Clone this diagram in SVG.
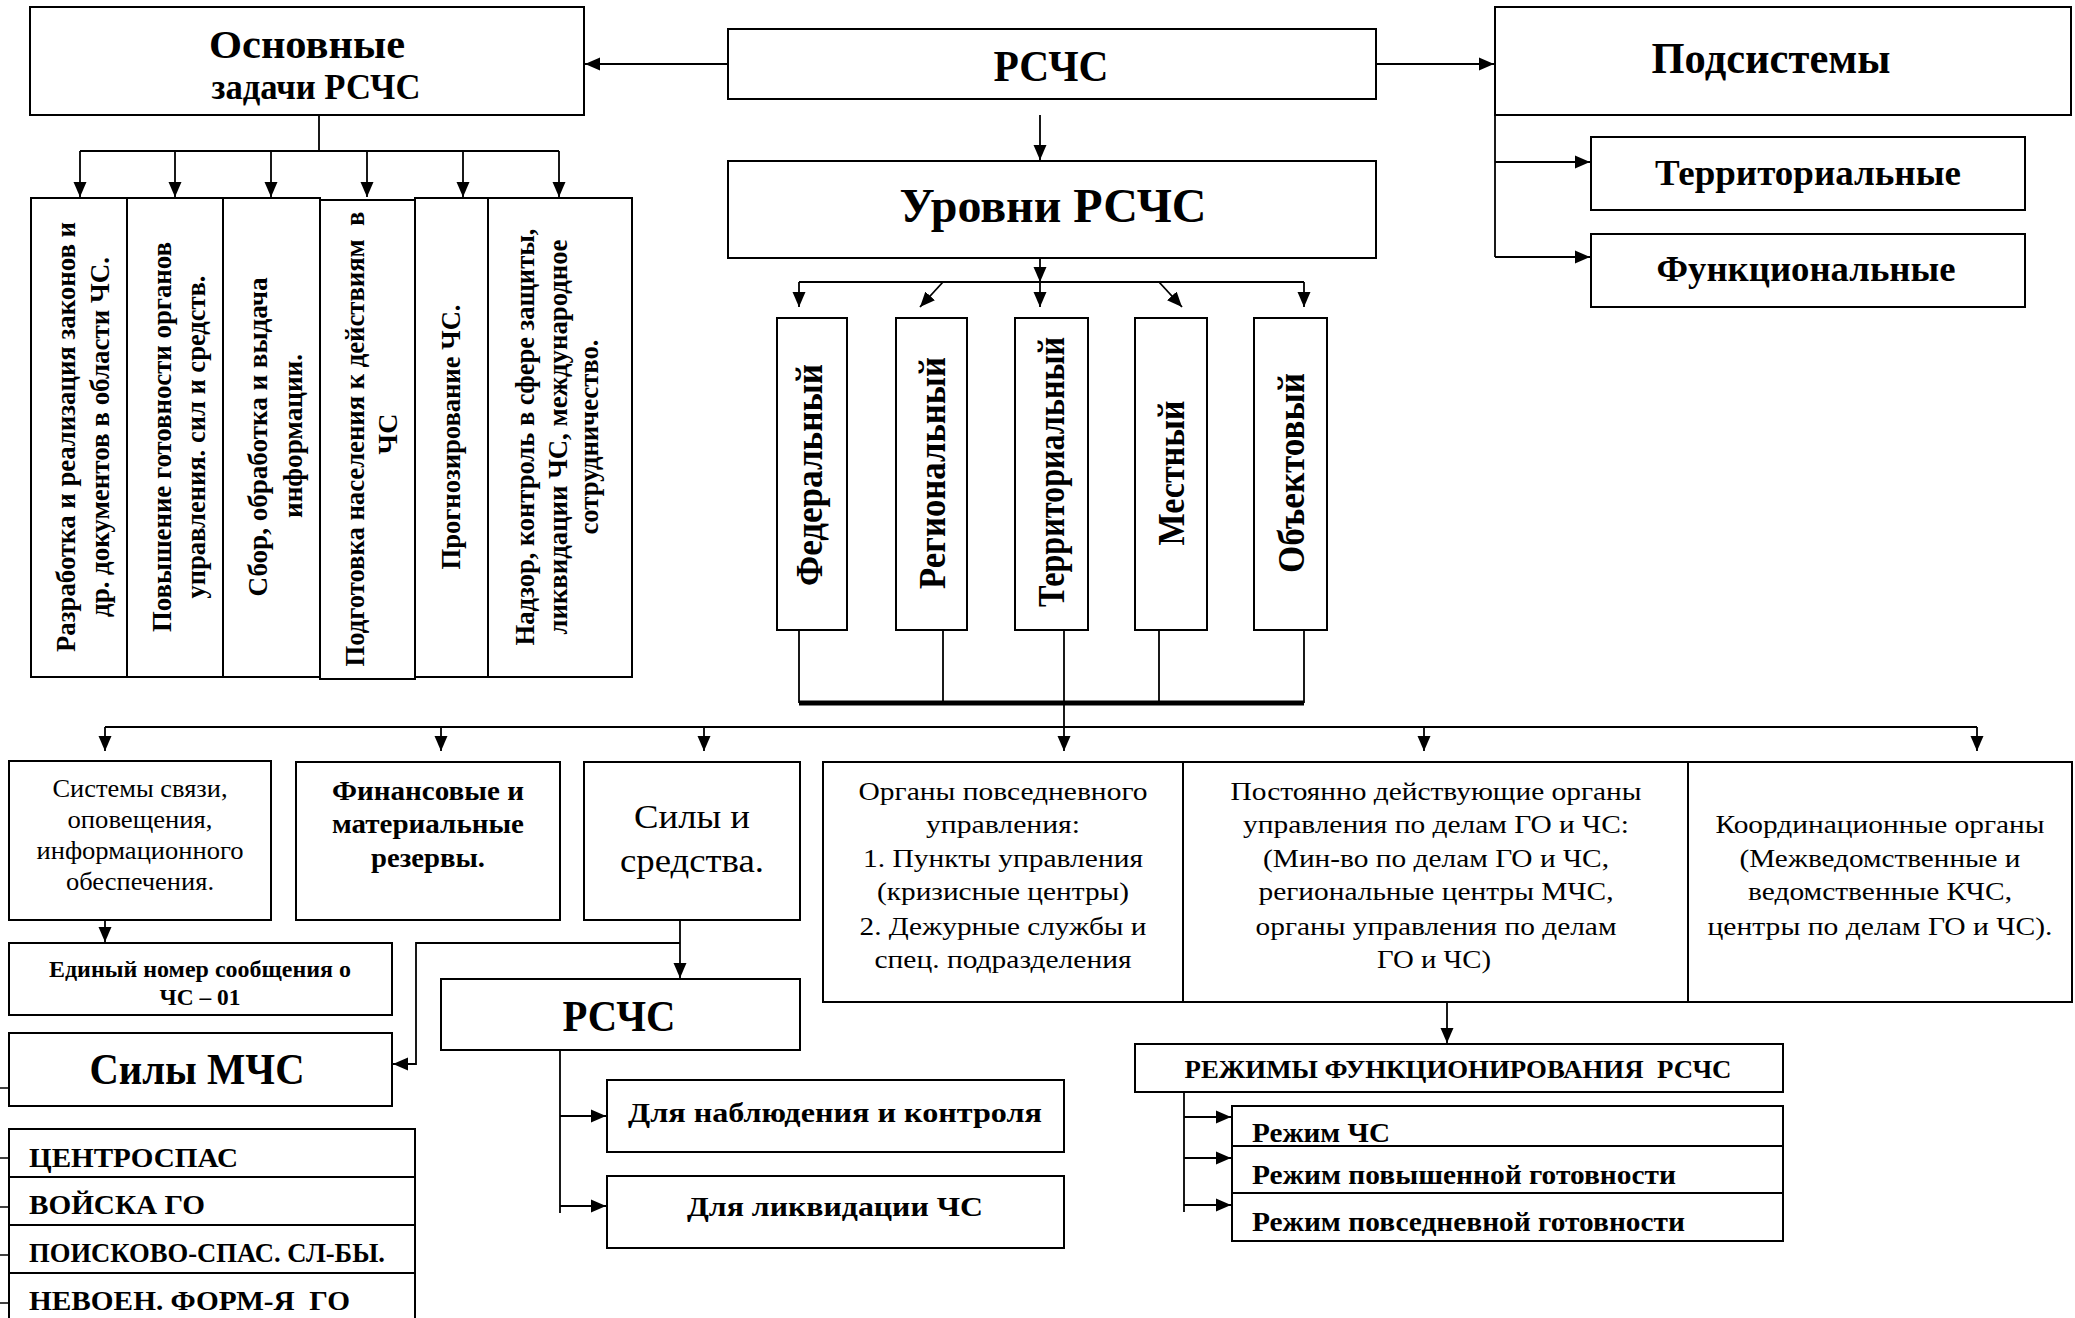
<svg xmlns="http://www.w3.org/2000/svg" width="2075" height="1318" viewBox="0 0 2075 1318">
<defs>
<marker id="ah" markerUnits="userSpaceOnUse" markerWidth="16" markerHeight="14" refX="15" refY="7" orient="auto"><path d="M0,0.5 L15,7 L0,13.5 z" fill="#000"/></marker>
<style>
.box{fill:#fff;stroke:#000;stroke-width:2}
.t{font-family:"Liberation Serif","Times New Roman",serif;fill:#000}
.b{font-weight:bold}
.m{text-anchor:middle}
.c{stroke:#000;stroke-width:1.8;fill:none}
.a{marker-end:url(#ah)}
.bar{stroke:#000;stroke-width:5;fill:none}
.tick{stroke:#000;stroke-width:1.5}
</style>
</defs>
<rect width="2075" height="1318" fill="#fff"/>

<g id="osnovnye">
<rect class="box" x="30" y="7" width="554" height="108"/>
<text class="t b m" x="307" y="58" font-size="41" textLength="196" lengthAdjust="spacingAndGlyphs">Основные</text>
<text class="t b m" x="316" y="99" font-size="35" textLength="209" lengthAdjust="spacingAndGlyphs">задачи РСЧС</text>
</g>
<g id="rschs-top">
<rect class="box" x="728" y="29" width="648" height="70"/>
<text class="t b m" x="1051" y="81" font-size="45" textLength="115" lengthAdjust="spacingAndGlyphs">РСЧС</text>
</g>
<g id="podsistemy">
<rect class="box" x="1495" y="7" width="576" height="108"/>
<text class="t b m" x="1771" y="73" font-size="45" textLength="239" lengthAdjust="spacingAndGlyphs">Подсистемы</text>
</g>
<g id="territorialnye">
<rect class="box" x="1591" y="137" width="434" height="73"/>
<text class="t b m" x="1808" y="185" font-size="36" textLength="306" lengthAdjust="spacingAndGlyphs">Территориальные</text>
</g>
<g id="funkcionalnye">
<rect class="box" x="1591" y="234" width="434" height="73"/>
<text class="t b m" x="1806" y="281" font-size="36" textLength="299" lengthAdjust="spacingAndGlyphs">Функциональные</text>
</g>
<g id="urovni">
<rect class="box" x="728" y="161" width="648" height="97"/>
<text class="t b m" x="1053" y="222" font-size="48" textLength="307" lengthAdjust="spacingAndGlyphs">Уровни РСЧС</text>
</g>

<g id="task1">
<rect class="box" x="31" y="198" width="96" height="479"/>
<text class="t b m" transform="translate(75,437) rotate(-90)" font-size="28" textLength="430" lengthAdjust="spacingAndGlyphs">Разработка и реализация законов и</text>
<text class="t b m" transform="translate(109,437) rotate(-90)" font-size="28" textLength="360" lengthAdjust="spacingAndGlyphs">др. документов в области ЧС.</text>
</g>
<g id="task2">
<rect class="box" x="127" y="198" width="96" height="479"/>
<text class="t b m" transform="translate(171,437) rotate(-90)" font-size="28" textLength="390" lengthAdjust="spacingAndGlyphs">Повышение готовности органов</text>
<text class="t b m" transform="translate(205,437) rotate(-90)" font-size="28" textLength="323" lengthAdjust="spacingAndGlyphs">управления. сил и средств.</text>
</g>
<g id="task3">
<rect class="box" x="223" y="198" width="97" height="479"/>
<text class="t b m" transform="translate(267,437) rotate(-90)" font-size="28" textLength="319" lengthAdjust="spacingAndGlyphs">Сбор, обработка и выдача</text>
<text class="t b m" transform="translate(302,436) rotate(-90)" font-size="28" textLength="164" lengthAdjust="spacingAndGlyphs">информации.</text>
</g>
<g id="task4">
<rect class="box" x="320" y="200" width="95" height="479"/>
<text class="t b m" transform="translate(364,439) rotate(-90)" font-size="28" textLength="455" lengthAdjust="spacingAndGlyphs" style="white-space:pre">Подготовка населения к действиям  в</text>
<text class="t b m" transform="translate(397,434) rotate(-90)" font-size="28">ЧС</text>
</g>
<g id="task5">
<rect class="box" x="415" y="198" width="73" height="479"/>
<text class="t b m" transform="translate(460,437) rotate(-90)" font-size="28" textLength="265" lengthAdjust="spacingAndGlyphs">Прогнозирование ЧС.</text>
</g>
<g id="task6">
<rect class="box" x="488" y="198" width="144" height="479"/>
<text class="t b m" transform="translate(534,437) rotate(-90)" font-size="28" textLength="417" lengthAdjust="spacingAndGlyphs">Надзор, контроль в сфере защиты,</text>
<text class="t b m" transform="translate(567,437) rotate(-90)" font-size="28" textLength="395" lengthAdjust="spacingAndGlyphs">ликвидации ЧС, международное</text>
<text class="t b m" transform="translate(598,437) rotate(-90)" font-size="28" textLength="195" lengthAdjust="spacingAndGlyphs">сотрудничество.</text>
</g>

<g id="lvl-federal">
<rect class="box" x="777" y="318" width="70" height="312"/>
<text class="t b m" transform="translate(822,475) rotate(-90)" font-size="37" textLength="222" lengthAdjust="spacingAndGlyphs">Федеральный</text>
</g>
<g id="lvl-regional">
<rect class="box" x="896" y="318" width="71" height="312"/>
<text class="t b m" transform="translate(945,473) rotate(-90)" font-size="37" textLength="232" lengthAdjust="spacingAndGlyphs">Региональный</text>
</g>
<g id="lvl-territorial">
<rect class="box" x="1015" y="318" width="73" height="312"/>
<text class="t b m" transform="translate(1064,472) rotate(-90)" font-size="37" textLength="270" lengthAdjust="spacingAndGlyphs">Территориальный</text>
</g>
<g id="lvl-mestny">
<rect class="box" x="1135" y="318" width="72" height="312"/>
<text class="t b m" transform="translate(1184,473) rotate(-90)" font-size="37" textLength="145" lengthAdjust="spacingAndGlyphs">Местный</text>
</g>
<g id="lvl-obektovy">
<rect class="box" x="1254" y="318" width="73" height="312"/>
<text class="t b m" transform="translate(1304,473) rotate(-90)" font-size="37" textLength="200" lengthAdjust="spacingAndGlyphs">Объектовый</text>
</g>

<g id="sistemy-svyazi">
<rect class="box" x="9" y="761" width="262" height="159"/>
<text class="t m" x="140" y="797" font-size="26" textLength="175" lengthAdjust="spacingAndGlyphs">Системы связи,</text>
<text class="t m" x="140" y="828" font-size="26" textLength="145" lengthAdjust="spacingAndGlyphs">оповещения,</text>
<text class="t m" x="140" y="859" font-size="26" textLength="207" lengthAdjust="spacingAndGlyphs">информационного</text>
<text class="t m" x="140" y="890" font-size="26" textLength="148" lengthAdjust="spacingAndGlyphs">обеспечения.</text>
</g>
<g id="finansovye">
<rect class="box" x="296" y="762" width="264" height="158"/>
<text class="t b m" x="428" y="800" font-size="27" textLength="192" lengthAdjust="spacingAndGlyphs">Финансовые и</text>
<text class="t b m" x="428" y="833" font-size="27" textLength="192" lengthAdjust="spacingAndGlyphs">материальные</text>
<text class="t b m" x="428" y="867" font-size="27" textLength="114" lengthAdjust="spacingAndGlyphs">резервы.</text>
</g>
<g id="sily-sredstva">
<rect class="box" x="584" y="762" width="216" height="158"/>
<text class="t m" x="692" y="828" font-size="33" textLength="116" lengthAdjust="spacingAndGlyphs">Силы и</text>
<text class="t m" x="692" y="872" font-size="33" textLength="144" lengthAdjust="spacingAndGlyphs">средства.</text>
</g>
<g id="organy-povsednevnogo">
<rect class="box" x="823" y="762" width="360" height="240"/>
<text class="t m" x="1003" y="800" font-size="26" textLength="289" lengthAdjust="spacingAndGlyphs">Органы повседневного</text>
<text class="t m" x="1003" y="833" font-size="26" textLength="154" lengthAdjust="spacingAndGlyphs">управления:</text>
<text class="t m" x="1003" y="867" font-size="26" textLength="280" lengthAdjust="spacingAndGlyphs">1. Пункты управления</text>
<text class="t m" x="1003" y="900" font-size="26" textLength="252" lengthAdjust="spacingAndGlyphs">(кризисные центры)</text>
<text class="t m" x="1003" y="935" font-size="26" textLength="287" lengthAdjust="spacingAndGlyphs">2. Дежурные службы и</text>
<text class="t m" x="1003" y="968" font-size="26" textLength="257" lengthAdjust="spacingAndGlyphs">спец. подразделения</text>
</g>
<g id="postoyanno">
<rect class="box" x="1183" y="762" width="505" height="240"/>
<text class="t m" x="1436" y="800" font-size="26" textLength="411" lengthAdjust="spacingAndGlyphs">Постоянно действующие органы</text>
<text class="t m" x="1436" y="833" font-size="26" textLength="386" lengthAdjust="spacingAndGlyphs">управления по делам ГО и ЧС:</text>
<text class="t m" x="1436" y="867" font-size="26" textLength="346" lengthAdjust="spacingAndGlyphs">(Мин-во по делам ГО и ЧС,</text>
<text class="t m" x="1436" y="900" font-size="26" textLength="355" lengthAdjust="spacingAndGlyphs">региональные центры МЧС,</text>
<text class="t m" x="1436" y="935" font-size="26" textLength="361" lengthAdjust="spacingAndGlyphs">органы управления по делам</text>
<text class="t m" x="1434" y="968" font-size="26" textLength="114" lengthAdjust="spacingAndGlyphs">ГО и ЧС)</text>
</g>
<g id="koordinacionnye">
<rect class="box" x="1688" y="762" width="384" height="240"/>
<text class="t m" x="1880" y="833" font-size="26" textLength="329" lengthAdjust="spacingAndGlyphs">Координационные органы</text>
<text class="t m" x="1880" y="867" font-size="26" textLength="281" lengthAdjust="spacingAndGlyphs">(Межведомственные и</text>
<text class="t m" x="1880" y="900" font-size="26" textLength="264" lengthAdjust="spacingAndGlyphs">ведомственные КЧС,</text>
<text class="t m" x="1880" y="935" font-size="26" textLength="345" lengthAdjust="spacingAndGlyphs">центры по делам ГО и ЧС).</text>
</g>

<g id="edinyi-nomer">
<rect class="box" x="9" y="943" width="383" height="72"/>
<text class="t b m" x="200" y="977" font-size="23" textLength="302" lengthAdjust="spacingAndGlyphs">Единый номер сообщения о</text>
<text class="t b m" x="200" y="1005" font-size="23" textLength="81" lengthAdjust="spacingAndGlyphs">ЧС – 01</text>
</g>
<g id="sily-mchs">
<rect class="box" x="9" y="1033" width="383" height="73"/>
<text class="t b m" x="197" y="1084" font-size="44" textLength="215" lengthAdjust="spacingAndGlyphs">Силы МЧС</text>
</g>
<g id="sily-list">
<rect class="box" x="9" y="1129" width="406" height="48"/>
<rect class="box" x="9" y="1177" width="406" height="48"/>
<rect class="box" x="9" y="1225" width="406" height="48"/>
<rect class="box" x="9" y="1273" width="406" height="60"/>
<text class="t b" x="29" y="1167" font-size="27" textLength="209" lengthAdjust="spacingAndGlyphs">ЦЕНТРОСПАС</text>
<text class="t b" x="29" y="1214" font-size="27" textLength="176" lengthAdjust="spacingAndGlyphs">ВОЙСКА ГО</text>
<text class="t b" x="29" y="1262" font-size="27" textLength="356" lengthAdjust="spacingAndGlyphs">ПОИСКОВО-СПАС. СЛ-БЫ.</text>
<text class="t b" x="29" y="1310" font-size="27" textLength="321" lengthAdjust="spacingAndGlyphs" style="white-space:pre">НЕВОЕН. ФОРМ-Я  ГО</text>
</g>
<g id="rschs-2">
<rect class="box" x="441" y="979" width="359" height="71"/>
<text class="t b m" x="619" y="1031" font-size="44" textLength="113" lengthAdjust="spacingAndGlyphs">РСЧС</text>
</g>
<g id="dlya-nablyudeniya">
<rect class="box" x="607" y="1080" width="457" height="72"/>
<text class="t b m" x="835" y="1122" font-size="28" textLength="414" lengthAdjust="spacingAndGlyphs">Для наблюдения и контроля</text>
</g>
<g id="dlya-likvidacii">
<rect class="box" x="607" y="1176" width="457" height="72"/>
<text class="t b m" x="835" y="1216" font-size="28" textLength="296" lengthAdjust="spacingAndGlyphs">Для ликвидации ЧС</text>
</g>

<g id="rezhimy">
<rect class="box" x="1135" y="1044" width="648" height="48"/>
<text class="t b m" x="1458" y="1078" font-size="25" textLength="547" lengthAdjust="spacingAndGlyphs" style="white-space:pre">РЕЖИМЫ ФУНКЦИОНИРОВАНИЯ  РСЧС</text>
</g>
<g id="rezhim-chs">
<rect class="box" x="1232" y="1106" width="551" height="40"/>
<text class="t b" x="1252" y="1142" font-size="27" textLength="138" lengthAdjust="spacingAndGlyphs">Режим ЧС</text>
</g>
<g id="rezhim-povyshennoy">
<rect class="box" x="1232" y="1146" width="551" height="47"/>
<text class="t b" x="1252" y="1184" font-size="27" textLength="424" lengthAdjust="spacingAndGlyphs">Режим повышенной готовности</text>
</g>
<g id="rezhim-povsednevnoy">
<rect class="box" x="1232" y="1193" width="551" height="48"/>
<text class="t b" x="1252" y="1231" font-size="27" textLength="433" lengthAdjust="spacingAndGlyphs">Режим повседневной готовности</text>
</g>

<g id="connectors">
<line class="c a" x1="728" y1="64" x2="585" y2="64"/>
<line class="c a" x1="1376" y1="64" x2="1494" y2="64"/>
<line class="c a" x1="1040" y1="115" x2="1040" y2="160"/>
<polyline class="c" points="319,115 319,151"/>
<line class="c" x1="80" y1="151" x2="559" y2="151"/>
<line class="c a" x1="80" y1="151" x2="80" y2="197"/>
<line class="c a" x1="175" y1="151" x2="175" y2="197"/>
<line class="c a" x1="271" y1="151" x2="271" y2="197"/>
<line class="c a" x1="367" y1="151" x2="367" y2="197"/>
<line class="c a" x1="463" y1="151" x2="463" y2="197"/>
<line class="c a" x1="559" y1="151" x2="559" y2="197"/>
<line class="c" x1="1495" y1="115" x2="1495" y2="257"/>
<line class="c a" x1="1495" y1="162" x2="1590" y2="162"/>
<line class="c a" x1="1495" y1="257" x2="1590" y2="257"/>
<line class="c a" x1="1040" y1="258" x2="1040" y2="282"/>
<line class="c" x1="799" y1="282" x2="1304" y2="282"/>
<line class="c a" x1="799" y1="282" x2="799" y2="307"/>
<line class="c a" x1="943" y1="282" x2="920" y2="307"/>
<line class="c a" x1="1040" y1="282" x2="1040" y2="307"/>
<line class="c a" x1="1159" y1="282" x2="1182" y2="307"/>
<line class="c a" x1="1304" y1="282" x2="1304" y2="307"/>
<line class="c" x1="799" y1="630" x2="799" y2="703"/>
<line class="c" x1="943" y1="630" x2="943" y2="703"/>
<line class="c" x1="1159" y1="630" x2="1159" y2="703"/>
<line class="c" x1="1304" y1="630" x2="1304" y2="703"/>
<line class="bar" x1="799" y1="703" x2="1304" y2="703"/>
<line class="c a" x1="1064" y1="630" x2="1064" y2="751"/>
<line class="c" x1="105" y1="727" x2="1977" y2="727"/>
<line class="c a" x1="105" y1="727" x2="105" y2="751"/>
<line class="c a" x1="441" y1="727" x2="441" y2="751"/>
<line class="c a" x1="704" y1="727" x2="704" y2="751"/>
<line class="c a" x1="1424" y1="727" x2="1424" y2="751"/>
<line class="c a" x1="1977" y1="727" x2="1977" y2="751"/>
<line class="c a" x1="105" y1="920" x2="105" y2="942"/>
<line class="c a" x1="680" y1="920" x2="680" y2="978"/>
<polyline class="c a" points="680,943 416,943 416,1064 393,1064"/>
<line class="c" x1="560" y1="1050" x2="560" y2="1213"/>
<line class="c a" x1="560" y1="1116" x2="606" y2="1116"/>
<line class="c a" x1="560" y1="1206" x2="606" y2="1206"/>
<line class="c a" x1="1447" y1="1002" x2="1447" y2="1043"/>
<line class="c" x1="1184" y1="1092" x2="1184" y2="1212"/>
<line class="c a" x1="1184" y1="1117" x2="1231" y2="1117"/>
<line class="c a" x1="1184" y1="1158" x2="1231" y2="1158"/>
<line class="c a" x1="1184" y1="1205" x2="1231" y2="1205"/>
<line class="tick" x1="0" y1="1088" x2="8" y2="1088"/>
<line class="tick" x1="0" y1="1158" x2="8" y2="1158"/>
<line class="tick" x1="0" y1="1207" x2="8" y2="1207"/>
<line class="tick" x1="0" y1="1255" x2="8" y2="1255"/>
<line class="tick" x1="0" y1="1303" x2="8" y2="1303"/>
</g>
</svg>
